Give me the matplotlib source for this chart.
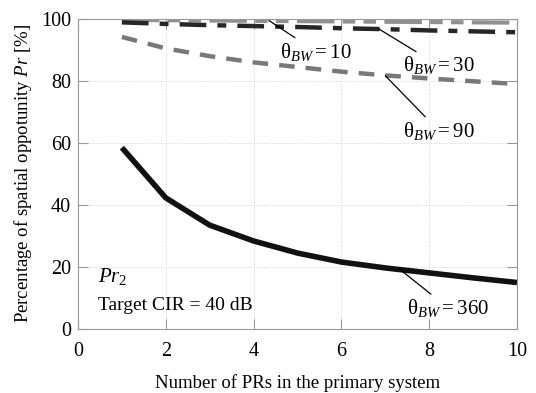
import matplotlib
matplotlib.use("Agg")
import matplotlib.pyplot as plt

plt.rcParams['font.family'] = 'serif'
plt.rcParams['font.serif'] = ['Liberation Serif', 'DejaVu Serif']
plt.rcParams['mathtext.fontset'] = 'custom'
plt.rcParams['mathtext.rm'] = 'Liberation Serif'
plt.rcParams['mathtext.it'] = 'Liberation Serif:italic'

num_prs = [1, 2, 3, 4, 5, 6, 7, 8, 9, 10]
pr_bw10 = [99.7, 99.6, 99.5, 99.4, 99.3, 99.2, 99.1, 99.0, 98.9, 98.8]
pr_bw30 = [98.9, 98.4, 98.0, 97.7, 97.4, 97.0, 96.7, 96.3, 96.0, 95.7]
pr_bw90 = [94.2, 90.5, 88.0, 86.0, 84.5, 83.0, 81.8, 80.8, 79.9, 79.0]
pr_bw360 = [58.5, 42.3, 33.5, 28.4, 24.5, 21.6, 19.7, 18.1, 16.5, 15.0]

x_ticks = [0, 2, 4, 6, 8, 10]
y_ticks = [0, 20, 40, 60, 80, 100]

fig = plt.figure(figsize=(5.36, 3.93), dpi=100)
ax = fig.add_axes([0.1455, 0.1628, 0.819, 0.789])

ax.plot(num_prs, pr_bw10, color='#909090', lw=3.0, dashes=(9, 2, 3, 2, 3, 2))
ax.plot(num_prs, pr_bw30, color='#262626', lw=3.2, dashes=(6, 2.5, 2, 2.5))
ax.plot(num_prs, pr_bw90, color='#787878', lw=3.2, dashes=(3.5, 2.5))
ax.plot(num_prs, pr_bw360, color='#111111', lw=4.0, solid_capstyle='butt')

ax.set_xlim(0, 10)
ax.set_ylim(0, 100)
ax.set_xticks(x_ticks)
ax.set_yticks(y_ticks)
ax.set_xticklabels([str(v) for v in x_ticks], fontfamily='Liberation Serif')
ax.set_yticklabels([str(v) for v in y_ticks], fontfamily='Liberation Serif')
ax.tick_params(direction='in', length=7, width=0.8, color='#999999',
               top=True, right=True, labelsize=14.5)
ax.tick_params(axis='x', pad=9)
ax.tick_params(axis='y', pad=5)
ax.grid(True, color='#d2d2d2', linestyle=':', linewidth=0.7)
for sp in ax.spines.values():
    sp.set_color('#999999')
    sp.set_linewidth(0.8)

ax.set_xlabel('Number of PRs in the primary system', fontsize=13.5, labelpad=10,
              fontfamily='Liberation Serif')
ax.set_ylabel('Percentage of spatial oppotunity $\\mathit{Pr}$ [%]', fontsize=13.5,
              labelpad=5, fontfamily='Liberation Serif')

lbl = dict(fontsize=15, ha='left', va='center')
arrow = dict(arrowstyle='-', color='black', lw=0.9, shrinkA=0, shrinkB=0)
ax.annotate('$\\mathrm{\\theta}_{BW}\\mathrm{ = 10}$', xy=(4.35, 99.5), xytext=(4.6, 89.5),
            arrowprops=arrow, **lbl)
ax.annotate('$\\mathrm{\\theta}_{BW}\\mathrm{ = 30}$', xy=(6.85, 96.8), xytext=(7.4, 85.0),
            arrowprops=arrow, **lbl)
ax.annotate('$\\mathrm{\\theta}_{BW}\\mathrm{ = 90}$', xy=(7.0, 81.7), xytext=(7.4, 64.0),
            arrowprops=arrow, **lbl)
ax.annotate('$\\mathrm{\\theta}_{BW}\\mathrm{ = 360}$', xy=(7.3, 19.6), xytext=(7.5, 6.8),
            arrowprops=arrow, **lbl)

ax.text(0.45, 16.8, '$\\mathit{Pr}_{2}$', fontsize=15, ha='left', va='center')
ax.text(0.45, 7.5, 'Target CIR = 40 dB', fontsize=14, ha='left', va='center',
        fontfamily='Liberation Serif')

fig.savefig('out.png', dpi=100)
